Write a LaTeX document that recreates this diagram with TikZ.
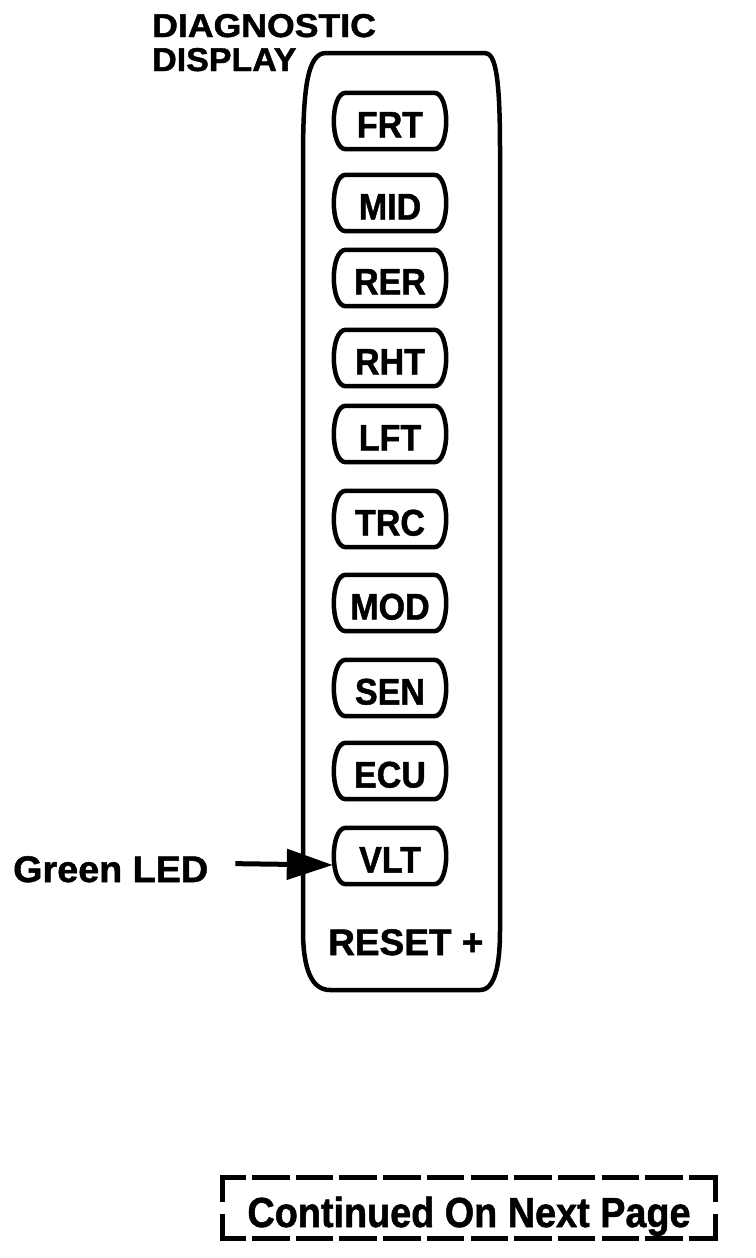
\documentclass[tikz,border=0pt]{standalone}
\usepackage{fontspec}
\setmainfont{Liberation Sans}[BoldFeatures={FakeBold=1.3}]
\usetikzlibrary{arrows.meta}
\begin{document}
\begin{tikzpicture}[x=1pt,y=-1pt,
  outline/.style={line width=4.5pt, line join=round},
  btnline/.style={line width=4.5pt, line join=round},
  btn/.style={minimum width=114pt, minimum height=56pt, inner sep=0pt,
    text height=33pt, text depth=0pt, font=\fontsize{37}{37}\selectfont\bfseries},
  lbl/.style={anchor=base west, inner sep=0pt},
  dashline/.style={line width=5pt, line cap=rect},
  arrowline/.style={line width=5pt, -{Triangle[length=46pt,width=30pt]}}
]
\useasboundingbox (0,0) rectangle (755,1258);

% panel outline
\draw[outline] (303,160) .. controls (303,90) and (307,53) .. (326,53)
  -- (485,53) .. controls (496,53) and (500,80) .. (500,150)
  -- (500,930) .. controls (500,965) and (495,990) .. (480,990)
  -- (330,990) .. controls (312,990) and (303,970) .. (303,930) -- cycle;

% title
\node[lbl, font=\fontsize{33}{33}\selectfont\bfseries] (diag) at (152,37) {\scalebox{1.08}[1]{DIAGNOSTIC}};
\node[lbl, font=\fontsize{33}{33}\selectfont\bfseries] (disp) at (152,71) {\scalebox{1.03}[1]{DISPLAY}};

% buttons
\foreach \y/\t [count=\i] in {121/FRT,203/MID,278/RER,358/RHT,434/LFT,519/TRC,603/MOD,688/SEN,771/ECU,856/VLT}{
  \node[btn] (b\i) at (390,\y) {\scalebox{0.92}[1]{\t}};
  \draw[btnline] ([xshift=13pt]b\i.north west) -- ([xshift=-13pt]b\i.north east)
    .. controls ([xshift=3pt]b\i.north east) and ([xshift=3pt]b\i.south east) .. ([xshift=-13pt]b\i.south east)
    -- ([xshift=13pt]b\i.south west)
    .. controls ([xshift=-3pt]b\i.south west) and ([xshift=-3pt]b\i.north west) .. cycle;
}

\node[lbl, font=\fontsize{37}{37}\selectfont\bfseries] (reset) at (328,955) {RESET +};

% green LED pointer
\node[lbl, font=\fontsize{37}{37}\selectfont\bfseries] (green) at (13,882) {\scalebox{1.02}[1]{Green LED}};
\draw[arrowline, shorten <=27pt] ([yshift=6pt]green.east) -- ([yshift=-9pt]b10.west);

% continued box
\node[minimum width=492pt, minimum height=60pt, inner sep=0pt, text height=38pt, text depth=0pt,
  font=\fontsize{42}{42}\selectfont\bfseries] (cont) at (469,1208) {\scalebox{0.9}[1]{Continued On Next Page}};
\draw[dashline, dash pattern=on 32.5pt off 11.2pt, dash phase=12pt] (cont.north west) -- (cont.north east);
\draw[dashline, dash pattern=on 32.5pt off 11.2pt, dash phase=12pt] (cont.south west) -- (cont.south east);
\draw[dashline, dash pattern=on 21.5pt off 17pt] (cont.north west) -- (cont.south west);
\draw[dashline, dash pattern=on 21.5pt off 17pt] (cont.north east) -- (cont.south east);
\end{tikzpicture}
\end{document}
